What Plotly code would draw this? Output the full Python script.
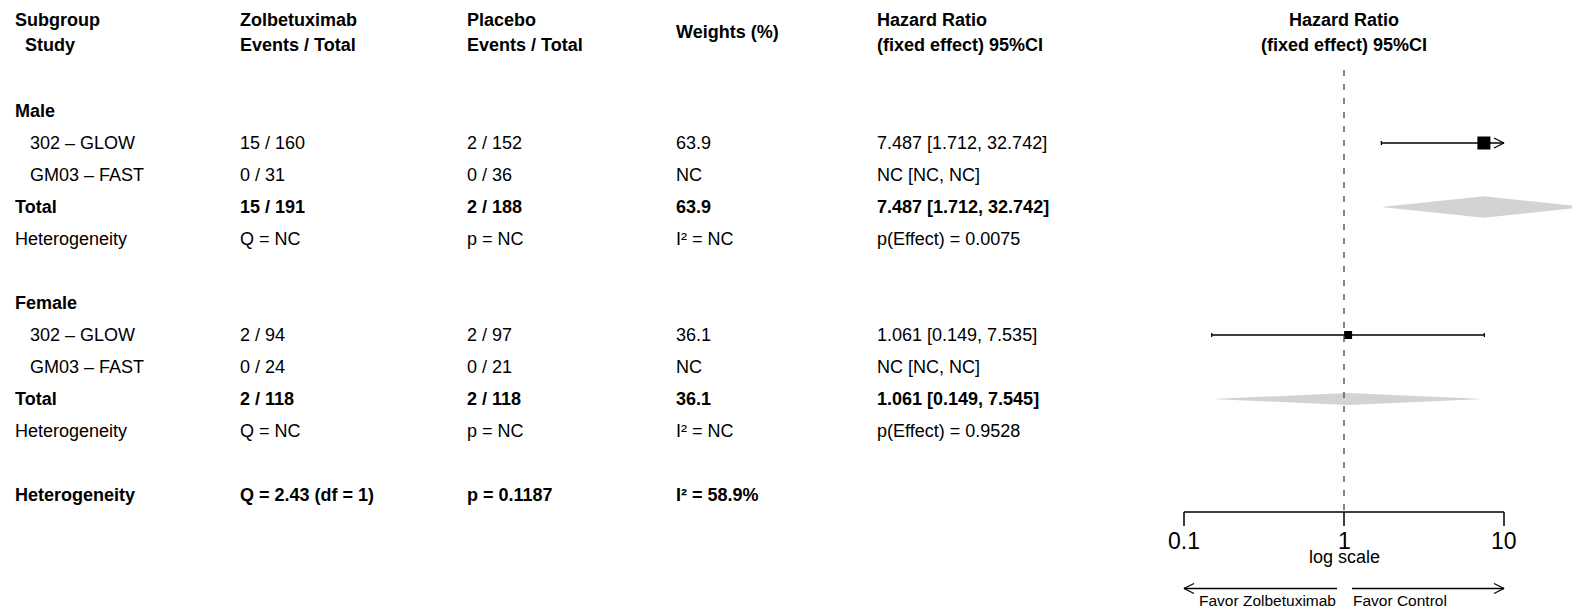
import numpy as np
import plotly.graph_objects as go

W, H = 1572, 611

# ---------------- data ----------------
subgroups = ["Male", "Female"]
studies = ["302 – GLOW", "GM03 – FAST"]
zol_events = [[15, 0], [2, 0]]
zol_total = [[160, 31], [94, 24]]
pla_events = [[2, 0], [2, 0]]
pla_total = [[152, 36], [97, 21]]
study_weight = [[63.9, None], [36.1, None]]
study_hr = [[7.487, None], [1.061, None]]
study_lo = [[1.712, None], [0.149, None]]
study_hi = [[32.742, None], [7.535, None]]

tot_zol_events = [15, 2]
tot_zol_total = [191, 118]
tot_pla_events = [2, 2]
tot_pla_total = [188, 118]
tot_weight = [63.9, 36.1]
tot_hr = [7.487, 1.061]
tot_lo = [1.712, 0.149]
tot_hi = [32.742, 7.545]
p_effect = ["0.0075", "0.9528"]

overall_Q = 2.43
overall_df = 1
overall_p = "0.1187"
overall_I2 = 58.9

tick_vals = [0.1, 1, 10]
tick_text = ["0.1", "1", "10"]

col_headers = [
    ["Subgroup", "  Study"],
    ["Zolbetuximab", "Events / Total"],
    ["Placebo", "Events / Total"],
    ["Weights (%)"],
    ["Hazard Ratio", "(fixed effect) 95%CI"],
]

# ---------------- layout helpers ----------------
ROW0, ROWH = 111.0, 32.0           # pixel of first row, row spacing
X1PX, DEC = 1344.0, 160.0          # pixel of HR=1, pixels per decade
col_px = [13, 238, 465, 674, 875]
indent_px = 28

def r_of(py):
    return (py - ROW0) / ROWH

def dy(px):
    return px / ROWH

def lx(px_offset, base):
    return base * 10 ** (px_offset / DEC)

FONT = "Liberation Sans, Arial, Helvetica, sans-serif"
FS = 18

def fmt(v):
    if v is None:
        return "NC"
    return f"{v}"

def ci_text(h, lo, hi):
    if h is None:
        return "NC [NC, NC]"
    return f"{h:.3f} [{lo:.3f}, {hi:.3f}]"

fig = go.Figure()
ann = []

def txt(px, r, s, bold=False, anchor="left", size=FS, xref="paper", x=None, pad=1):
    ann.append(dict(
        x=(px / W) if x is None else x, y=r, xref=xref, yref="y",
        text=(f"<b>{s}</b>" if bold else s), showarrow=False,
        xanchor=anchor, yanchor="middle", borderpad=pad,
        font=dict(family=FONT, size=size, color="black"),
    ))

# headers
for ci, hdr in enumerate(col_headers):
    if len(hdr) == 1:
        txt(col_px[ci], r_of(32), hdr[0], bold=True)
    else:
        txt(col_px[ci], r_of(19.5), hdr[0], bold=True)
        txt(col_px[ci], r_of(45), hdr[1], bold=True)
txt(0, r_of(19.5), "Hazard Ratio", bold=True, anchor="center", xref="x", x=0)
txt(0, r_of(45), "(fixed effect) 95%CI", bold=True, anchor="center", xref="x", x=0)

# table body + forest marks
for g, sg in enumerate(subgroups):
    base = 6 * g
    txt(col_px[0], base, sg, bold=True)
    for s, st in enumerate(studies):
        r = base + 1 + s
        txt(indent_px, r, st)
        txt(col_px[1], r, f"{zol_events[g][s]} / {zol_total[g][s]}")
        txt(col_px[2], r, f"{pla_events[g][s]} / {pla_total[g][s]}")
        txt(col_px[3], r, fmt(study_weight[g][s]))
        txt(col_px[4], r, ci_text(study_hr[g][s], study_lo[g][s], study_hi[g][s]))
        h = study_hr[g][s]
        if h is not None:
            lo, hi = study_lo[g][s], study_hi[g][s]
            hi_c = min(hi, tick_vals[-1])
            lo_c = max(lo, tick_vals[0])
            fig.add_trace(go.Scatter(x=[lo_c, hi_c], y=[r, r], mode="lines",
                                     line=dict(color="black", width=1.3), hoverinfo="skip"))
            # end caps / arrows
            for end, clipped, sign in [(lo_c, lo < tick_vals[0], -1), (hi_c, hi > tick_vals[-1], 1)]:
                if clipped:
                    fig.add_trace(go.Scatter(
                        x=[lx(-sign * 10, end), end, lx(-sign * 10, end)],
                        y=[r - dy(5), r, r + dy(5)], mode="lines",
                        line=dict(color="black", width=1.3), hoverinfo="skip"))
                else:
                    fig.add_trace(go.Scatter(x=[end, end], y=[r - dy(2), r + dy(2)], mode="lines",
                                             line=dict(color="black", width=1.3), hoverinfo="skip"))
            w = study_weight[g][s]
            fig.add_trace(go.Scatter(x=[h], y=[r], mode="markers",
                                     marker=dict(symbol="square", size=1.5 + 0.18 * w, color="black",
                                                 line=dict(width=0)),
                                     hoverinfo="skip"))
    rt = base + 3
    txt(col_px[0], rt, "Total", bold=True)
    txt(col_px[1], rt, f"{tot_zol_events[g]} / {tot_zol_total[g]}", bold=True)
    txt(col_px[2], rt, f"{tot_pla_events[g]} / {tot_pla_total[g]}", bold=True)
    txt(col_px[3], rt, fmt(tot_weight[g]), bold=True)
    txt(col_px[4], rt, ci_text(tot_hr[g], tot_lo[g], tot_hi[g]), bold=True)
    hh = dy(0.168 * tot_weight[g])
    fig.add_trace(go.Scatter(
        x=[tot_lo[g], tot_hr[g], tot_hi[g], tot_hr[g], tot_lo[g]],
        y=[rt, rt - hh, rt, rt + hh, rt], mode="lines", fill="toself",
        fillcolor="#d3d3d3", line=dict(width=0, color="#d3d3d3"), hoverinfo="skip"))
    rh = base + 4
    txt(col_px[0], rh, "Heterogeneity")
    txt(col_px[1], rh, "Q = NC")
    txt(col_px[2], rh, "p = NC")
    txt(col_px[3], rh, "I² = NC")
    txt(col_px[4], rh, f"p(Effect) = {p_effect[g]}")

ro = 12
txt(col_px[0], ro, "Heterogeneity", bold=True)
txt(col_px[1], ro, f"Q = {overall_Q:.2f} (df = {overall_df})", bold=True)
txt(col_px[2], ro, f"p = {overall_p}", bold=True)
txt(col_px[3], ro, f"I² = {overall_I2}%", bold=True)

# reference dashed line at HR = 1
r_axis = r_of(512)
fig.add_trace(go.Scatter(x=[1, 1], y=[r_of(70), r_axis], mode="lines",
                         line=dict(color="#444444", width=1.3, dash="6px,8px"), hoverinfo="skip"))

# x axis drawn manually
fig.add_trace(go.Scatter(x=[tick_vals[0], tick_vals[-1]], y=[r_axis, r_axis], mode="lines",
                         line=dict(color="black", width=1.5), hoverinfo="skip"))
for tv, tt in zip(tick_vals, tick_text):
    fig.add_trace(go.Scatter(x=[tv, tv], y=[r_axis, r_axis + dy(14)], mode="lines",
                             line=dict(color="black", width=1.5), hoverinfo="skip"))
    txt(0, r_of(541), tt, anchor="center", size=23, xref="x", x=np.log10(tv), pad=0)
txt(0, r_of(557), "log scale", anchor="center", size=18, xref="x", x=0, pad=0)

# favour arrows
r_arr = r_of(588.5)
left_tail = lx(-7, 1)
right_tail = lx(8, 1)
for tail, tip in [(left_tail, tick_vals[0]), (right_tail, tick_vals[-1])]:
    fig.add_trace(go.Scatter(x=[tail, tip], y=[r_arr, r_arr], mode="lines",
                             line=dict(color="black", width=1.3), hoverinfo="skip"))
    sgn = 1 if tip > tail else -1
    fig.add_trace(go.Scatter(x=[lx(-sgn * 10, tip), tip, lx(-sgn * 10, tip)],
                             y=[r_arr - dy(5), r_arr, r_arr + dy(5)], mode="lines",
                             line=dict(color="black", width=1.3), hoverinfo="skip"))
txt(0, r_of(600.5), "Favor Zolbetuximab", anchor="right", size=15.5, xref="x",
    x=np.log10(left_tail), pad=0)
txt(0, r_of(600.5), "Favor Control", anchor="left", size=15.5, xref="x",
    x=np.log10(right_tail), pad=0)

fig.update_layout(
    width=W, height=H,
    margin=dict(l=0, r=0, t=0, b=0),
    paper_bgcolor="white", plot_bgcolor="white",
    showlegend=False,
    annotations=ann,
    xaxis=dict(type="log", range=[-X1PX / DEC, (W - X1PX) / DEC], domain=[0, 1],
               visible=False, showgrid=False, zeroline=False, fixedrange=True),
    yaxis=dict(range=[r_of(H), r_of(0)], domain=[0, 1],
               visible=False, showgrid=False, zeroline=False, fixedrange=True),
)

fig.write_html("out.html", config={"displayModeBar": False},
               post_script="document.body.style.margin='0px';")
